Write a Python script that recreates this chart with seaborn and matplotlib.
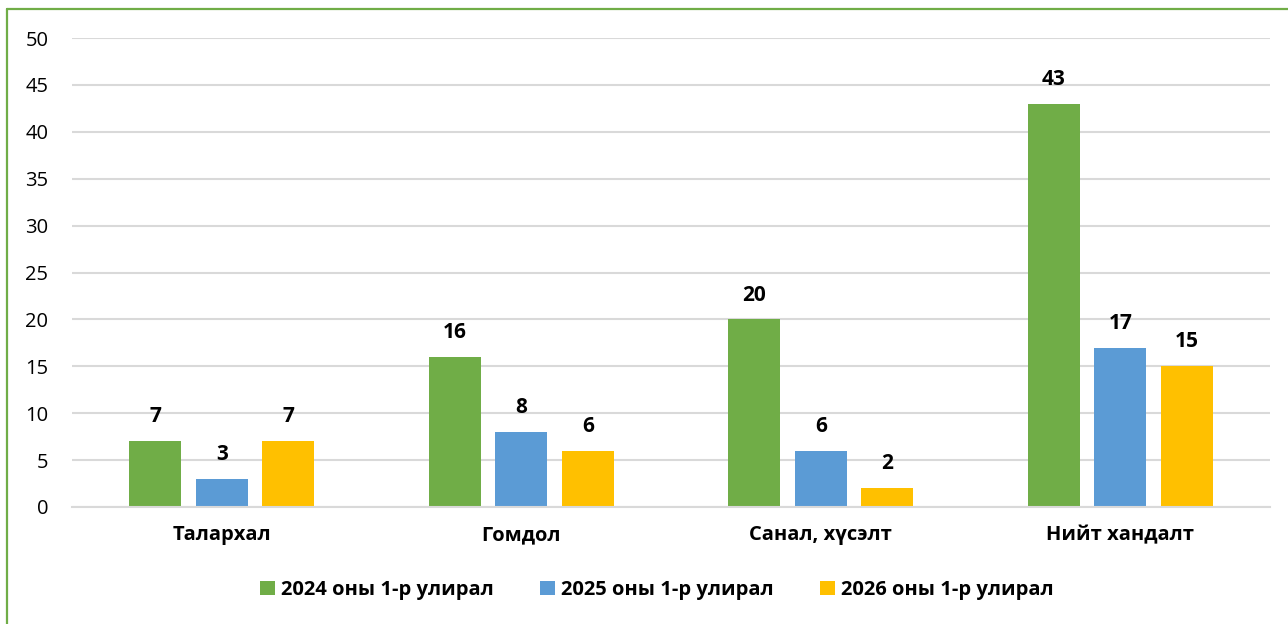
import pandas as pd
import matplotlib
matplotlib.use("Agg")
import matplotlib.pyplot as plt
from matplotlib.lines import Line2D
import seaborn as sns

# chart data
categories = ["Талархал", "Гомдол", "Санал, хүсэлт", "Нийт хандалт"]
series_names = ["2024 оны 1-р улирал", "2025 оны 1-р улирал", "2026 оны 1-р улирал"]
values_2024 = [7, 16, 20, 43]
values_2025 = [3, 8, 6, 17]
values_2026 = [7, 6, 2, 15]
y_ticks = [0, 5, 10, 15, 20, 25, 30, 35, 40, 45, 50]

colors = ["#70AD47", "#5B9BD5", "#FFC000"]


def build_frame():
    rows = []
    for name, vals in zip(series_names, [values_2024, values_2025, values_2026]):
        for cat, v in zip(categories, vals):
            rows.append({"category": cat, "series": name, "value": v})
    return pd.DataFrame(rows)


def main():
    sns.set_style("white")
    plt.rcParams["font.family"] = ["Open Sans", "DejaVu Sans"]
    plt.rcParams["text.color"] = "black"
    plt.rcParams["xtick.color"] = "black"
    plt.rcParams["ytick.color"] = "black"

    df = build_frame()
    fig = plt.figure(figsize=(12.88, 6.24), dpi=100)
    ax = fig.add_axes([72 / 1288, 1 - 507 / 624, 1198 / 1288, 469 / 624])

    sns.barplot(data=df, x="category", y="value", hue="series", order=categories,
                hue_order=series_names, palette=colors, width=0.666, gap=0.22,
                saturation=1, linewidth=0, ax=ax, legend=True)

    for cont in ax.containers:
        ax.bar_label(cont, fmt="%d", padding=10, fontsize=15, fontweight="bold")

    ax.set_ylim(0, 50)
    ax.set_yticks(y_ticks)
    ax.set_xlim(-0.5, len(categories) - 0.5)
    ax.yaxis.grid(True, color="#D9D9D9", linewidth=1.5)
    ax.set_axisbelow(True)
    for side in ["left", "right", "top"]:
        ax.spines[side].set_visible(False)
    ax.spines["bottom"].set_color("#D9D9D9")
    ax.spines["bottom"].set_linewidth(1.5)
    ax.tick_params(axis="y", length=0, pad=17, labelsize=14.5)
    ax.tick_params(axis="x", length=0, pad=13, labelsize=14.5)
    for lbl in ax.get_xticklabels():
        lbl.set_fontweight("bold")
    ax.set_xlabel("")
    ax.set_ylabel("")

    # legend below plot
    handles, labels = ax.get_legend_handles_labels()
    ax.legend_.remove()
    fig.legend(handles, labels, loc="center", bbox_to_anchor=(657 / 1288, 1 - 590 / 624),
               ncol=3, frameon=False, handlelength=0.75, handleheight=0.75,
               handletextpad=0.3, columnspacing=2.3,
               prop={"weight": "bold", "size": 14.5})

    # green frame on left and top edges
    fig.add_artist(Line2D([7 / 1288, 7 / 1288], [0, 1 - 9 / 624],
                          transform=fig.transFigure, color="#70AD47", linewidth=1.6))
    fig.add_artist(Line2D([7 / 1288, 1], [1 - 9 / 624, 1 - 9 / 624],
                          transform=fig.transFigure, color="#70AD47", linewidth=1.6))

    fig.savefig("out.png", dpi=100)


if __name__ == "__main__":
    main()
